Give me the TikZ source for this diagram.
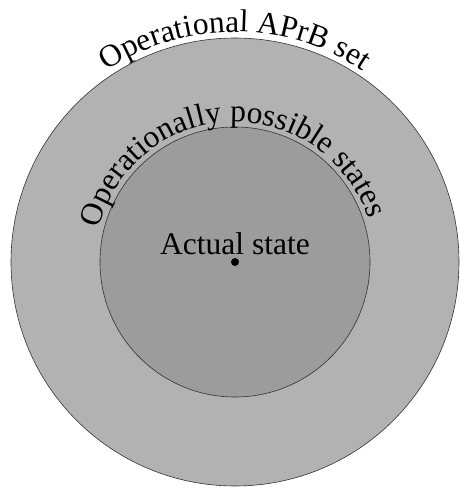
\documentclass[tikz,border=0pt]{standalone}
\usepackage{fontspec}
\setmainfont{Liberation Serif}
\usetikzlibrary{decorations.text}

\newcommand{\arcfont}{\fontsize{31.5}{36}\selectfont}
\definecolor{setgray}{gray}{0.70}
\definecolor{possgray}{gray}{0.61}

\tikzset{
  region/.style = {circle, draw = black!80, line width = 0.6pt, inner sep = 0pt},
  curvelabel/.style = {decorate, decoration = {text along path, text align = center,
      text = {#1}}},
}

\begin{document}
\begin{tikzpicture}[x = 1pt, y = 1pt]
\useasboundingbox (-235,-226) rectangle (225,262);
\node (aprb) [region, fill = setgray, minimum size = 448pt] at (0,0) {};
\node (poss) [region, fill = possgray, minimum size = 270pt] at (0,0) {};
\node (act) [circle, fill = black, inner sep = 0pt, minimum size = 8pt] at (0,0) {};
\node (actlbl) [font = \arcfont, anchor = base] at (0,8) {Actual state};
% labels bent along the two borders
\path [curvelabel = {|\arcfont|Operational APrB set}]
  (180:230) arc [start angle = 180, end angle = 0, radius = 230];
\path [curvelabel = {|\arcfont|Operationally possible states}]
  (182:140) arc [start angle = 182, end angle = 2, radius = 140];
\end{tikzpicture}
\end{document}
